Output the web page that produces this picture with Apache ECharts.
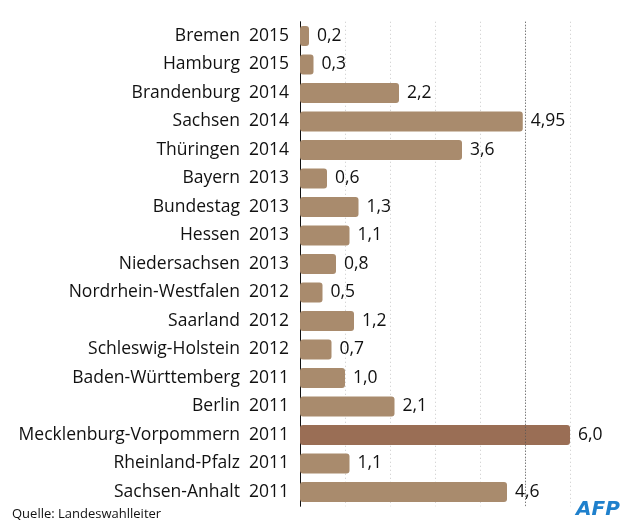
<!DOCTYPE html>
<html><head><meta charset="utf-8">
<script src="https://cdn.jsdelivr.net/npm/echarts@6/dist/echarts.min.js"></script>
<style>html,body{margin:0;padding:0;background:#fff}#c{width:626px;height:528px}</style>
</head><body><div id="c"></div>
<script>
const categories = ["Bremen  2015","Hamburg  2015","Brandenburg  2014","Sachsen  2014","Thüringen  2014","Bayern  2013","Bundestag  2013","Hessen  2013","Niedersachsen  2013","Nordrhein-Westfalen  2012","Saarland  2012","Schleswig-Holstein  2012","Baden-Württemberg  2011","Berlin  2011","Mecklenburg-Vorpommern  2011","Rheinland-Pfalz  2011","Sachsen-Anhalt  2011"];
const values = [0.2,0.3,2.2,4.95,3.6,0.6,1.3,1.1,0.8,0.5,1.2,0.7,1.0,2.1,6.0,1.1,4.6];
const highlight = "Mecklenburg-Vorpommern  2011";
const FONT = "Open Sans";
const chart = echarts.init(document.getElementById('c'));
chart.setOption({
  animation:false,
  grid:{left:300,width:270,top:21.75,height:484.5},
  xAxis:{type:'value',min:0,max:6,interval:1,
    axisLabel:{show:false},axisTick:{show:false},axisLine:{show:false},
    splitLine:{show:true,lineStyle:{color:'#c8c8c8',type:[1,3],width:1}}},
  yAxis:{type:'category',data:categories,inverse:true,
    axisTick:{show:false},
    axisLine:{show:true,lineStyle:{color:'#111',width:1}},
    axisLabel:{color:'#111',fontFamily:FONT,fontSize:17.5,margin:11}},
  series:[{type:'bar',barWidth:20,
    data:values.map((v,i)=>({value:v,itemStyle:{color:categories[i]===highlight?'#9a6e55':'#a98b6d'}})),
    itemStyle:{borderRadius:3},
    label:{show:true,position:'right',distance:8,color:'#111',fontFamily:FONT,fontSize:17.5,
      formatter:p=>p.value.toFixed(Math.round(p.value*100)%10?2:1).replace('.',',')},
    markLine:{silent:true,symbol:'none',label:{show:false},
      lineStyle:{color:'#555',type:[1,2],width:1},data:[{xAxis:5}]}
  }],
  graphic:[
    {type:'text',left:12,top:508,style:{text:'Quelle: Landeswahlleiter',fontFamily:FONT,fontSize:13,fill:'#111'}},
    {type:'text',left:576,top:500,style:{text:'AFP',fontFamily:'DejaVu Sans',fontWeight:'bold',fontStyle:'italic',fontSize:20,fill:'#1f80cc'}}
  ]
});
</script></body></html>
